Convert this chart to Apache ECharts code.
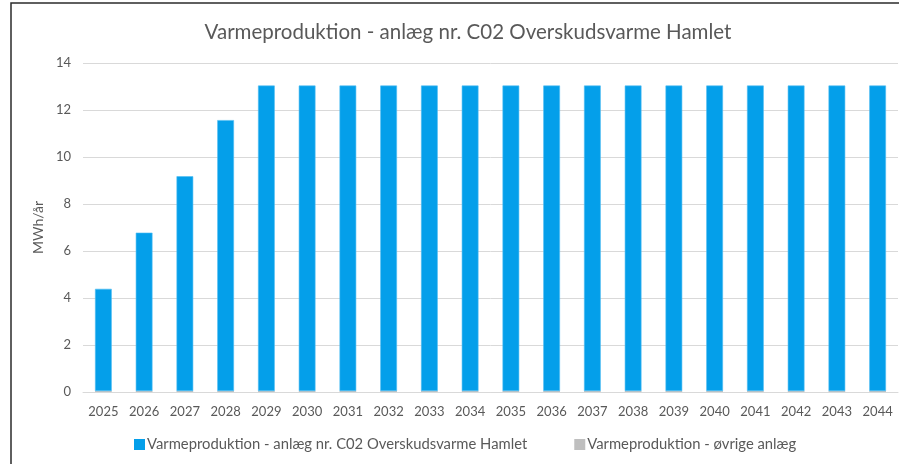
<!DOCTYPE html>
<html><head><meta charset="utf-8">
<script src="https://cdn.jsdelivr.net/npm/echarts@6/dist/echarts.min.js"></script>
<style>html,body{margin:0;padding:0;background:#fff}#c{width:899px;height:464px}</style>
</head><body><div id="c"></div>
<script>
const titleText = 'Varmeproduktion - anlæg nr. C02 Overskudsvarme Hamlet';
const yAxisName = 'MWh/år';
const years = ['2025','2026','2027','2028','2029','2030','2031','2032','2033','2034','2035','2036','2037','2038','2039','2040','2041','2042','2043','2044'];
const seriesHamletName = 'Varmeproduktion - anlæg nr. C02 Overskudsvarme Hamlet';
const seriesHamlet = [4.35, 6.74, 9.14, 11.53, 13.0, 13.0, 13.0, 13.0, 13.0, 13.0, 13.0, 13.0, 13.0, 13.0, 13.0, 13.0, 13.0, 13.0, 13.0, 13.0];
const seriesOtherName = 'Varmeproduktion - øvrige anlæg';
const seriesOther = [0.04, 0.04, 0.04, 0.04, 0.04, 0.04, 0.04, 0.04, 0.04, 0.04, 0.04, 0.04, 0.04, 0.04, 0.04, 0.04, 0.04, 0.04, 0.04, 0.04];
const yTicks = {min: 0, max: 14, interval: 2};

const FONT = 'Lato';
const TXT = '#595959';
const chart = echarts.init(document.getElementById('c'), null, {renderer: 'canvas'});
chart.setOption({
  animation: false,
  backgroundColor: '#fff',
  title: {text: titleText, left: 463, top: 17, textAlign: 'center',
    textStyle: {fontFamily: FONT, fontSize: 20.5, fontWeight: 'normal', color: TXT}},
  graphic: [{type: 'rect', shape: {x: 11, y: 3, width: 1000, height: 1000},
    style: {fill: null, stroke: '#2b2b2b', lineWidth: 1.5}, silent: true}],
  legend: {bottom: 7, left: 129, itemWidth: 11, itemHeight: 11, itemGap: 47,
    icon: 'rect', data: [seriesHamletName, seriesOtherName],
    itemStyle: {borderWidth: 0},
    textStyle: {fontFamily: FONT, fontSize: 14.8, color: TXT, padding: [0,0,0,-3]}},
  grid: {left: 83, right: 1, top: 63, bottom: 72, containLabel: false},
  xAxis: {type: 'category', data: years,
    axisLine: {lineStyle: {color: '#d9d9d9', width: 1}},
    axisTick: {show: false},
    axisLabel: {fontFamily: FONT, fontSize: 13, color: TXT, margin: 13}},
  yAxis: {type: 'value', min: yTicks.min, max: yTicks.max, interval: yTicks.interval,
    name: yAxisName, nameLocation: 'middle', nameGap: 34, nameRotate: 90,
    nameTextStyle: {fontFamily: FONT, fontSize: 14, color: TXT},
    axisLine: {show: false}, axisTick: {show: false},
    axisLabel: {fontFamily: FONT, fontSize: 13, color: TXT, margin: 12},
    splitLine: {lineStyle: {color: '#d9d9d9', width: 1}}},
  series: [
    {name: seriesOtherName, type: 'bar', stack: 's', data: seriesOther, barWidth: '41%',
      itemStyle: {color: '#bfbfbf'}},
    {name: seriesHamletName, type: 'bar', stack: 's', data: seriesHamlet, barWidth: '41%',
      itemStyle: {color: '#049fea', borderColor: '#4dbcf2', borderWidth: 0.6}}
  ]
});
</script></body></html>
